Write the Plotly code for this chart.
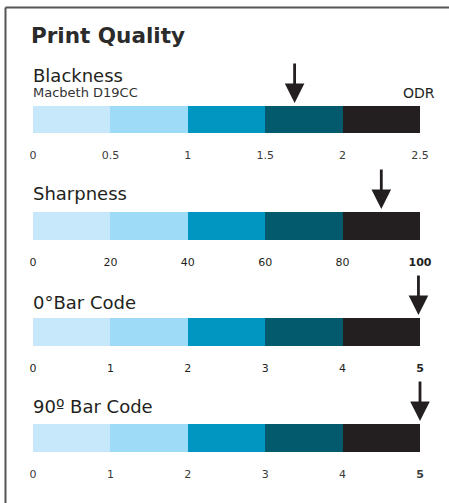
import plotly.graph_objects as go

# ---- data ----
metrics = ["Blackness", "Sharpness", "0\u00b0Bar Code", "90\u00ba Bar Code"]
subtitles = ["Macbeth D19CC", "", "", ""]
scale_max = [2.5, 100, 5, 5]
tick_values = [
    [0, 0.5, 1, 1.5, 2, 2.5],
    [0, 20, 40, 60, 80, 100],
    [0, 1, 2, 3, 4, 5],
    [0, 1, 2, 3, 4, 5],
]
tick_labels = [
    ["0", "0.5", "1", "1.5", "2", "2.5"],
    ["0", "20", "40", "60", "80", "<b>100</b>"],
    ["0", "1", "2", "3", "4", "<b>5</b>"],
    ["0", "1", "2", "3", "4", "<b>5</b>"],
]
arrow_values = [1.69, 90, 4.98, 5.0]
segment_colors = ["#c6e8fa", "#9ddbf6", "#0096c1", "#035a6c", "#231f20"]

# ---- layout helpers ----
W, H = 449, 503
FONT = "DejaVu Sans"
TXT = "#231f20"
x_dom = [33 / W, 420 / W]
bar_px = [(106, 133), (212, 240), (318, 346), (424, 452)]
label_px = [75, 193, 302, 406]
tick_colors = ["#3a3a3a", "#231f20", "#231f20", "#3a3a3a"]

def py(p):
    return 1 - p / H

fig = go.Figure()
annotations = []
n_seg = len(segment_colors)
for r in range(4):
    ax_id = "" if r == 0 else str(r + 1)
    step = scale_max[r] / n_seg
    for s in range(n_seg):
        fig.add_trace(go.Bar(
            orientation="h", x=[step], base=[s * step], y=[0], width=1,
            marker=dict(color=segment_colors[s], line=dict(width=0)),
            xaxis="x" + ax_id, yaxis="y" + ax_id, showlegend=False,
            hoverinfo="skip"))
    top, bot = bar_px[r]
    fig.update_layout(**{
        "xaxis" + ax_id: dict(
            domain=x_dom, range=[0, scale_max[r]], anchor="y" + ax_id,
            showgrid=False, zeroline=False, showline=False,
            tickmode="array", tickvals=tick_values[r], ticktext=tick_labels[r],
            ticks="outside", ticklen=12, tickcolor="rgba(0,0,0,0)",
            tickfont=dict(family=FONT, size=11, color=tick_colors[r]),
            fixedrange=True),
        "yaxis" + ax_id: dict(
            domain=[py(bot), py(top)], range=[-0.5, 0.5], visible=False,
            fixedrange=True),
    })
    # arrow
    annotations.append(dict(
        x=arrow_values[r], y=0.5, xref="x" + ax_id, yref="y" + ax_id,
        ax=0, ay=-44, axref="pixel", ayref="pixel", text="",
        showarrow=True, arrowhead=2, arrowsize=1.4, arrowwidth=2.8,
        arrowcolor=TXT, standoff=3))
    # row label
    annotations.append(dict(
        x=31 / W, y=py(label_px[r]), xref="paper", yref="paper",
        text=metrics[r], showarrow=False, xanchor="left", yanchor="middle",
        font=dict(family=FONT, size=18, color=TXT)))
    if subtitles[r]:
        annotations.append(dict(
            x=31 / W, y=py(92), xref="paper", yref="paper",
            text=subtitles[r], showarrow=False, xanchor="left", yanchor="middle",
            font=dict(family=FONT, size=13, color="#333333")))

annotations.append(dict(
    x=437 / W, y=py(93), xref="paper", yref="paper", text="ODR",
    showarrow=False, xanchor="right", yanchor="middle",
    font=dict(family=FONT, size=14, color=TXT)))
annotations.append(dict(
    x=29 / W, y=py(35), xref="paper", yref="paper", text="<b>Print Quality</b>",
    showarrow=False, xanchor="left", yanchor="middle",
    font=dict(family=FONT, size=21.5, color="#2b2b2b")))

shapes = [
    dict(type="line", xref="paper", yref="paper", x0=5.5 / W, x1=1.0,
         y0=py(7.5), y1=py(7.5), line=dict(color="#555555", width=2)),
    dict(type="line", xref="paper", yref="paper", x0=5.5 / W, x1=5.5 / W,
         y0=py(7.5), y1=0, line=dict(color="#555555", width=2)),
]

fig.update_layout(
    width=W, height=H, autosize=False,
    margin=dict(l=0, r=0, t=0, b=0, pad=0, autoexpand=False),
    paper_bgcolor="white", plot_bgcolor="white",
    barmode="overlay", bargap=0,
    annotations=annotations, shapes=shapes, showlegend=False,
)

fig.write_html(
    "out.html", config={"displayModeBar": False, "responsive": False},
    post_script="document.body.style.margin='0';")
